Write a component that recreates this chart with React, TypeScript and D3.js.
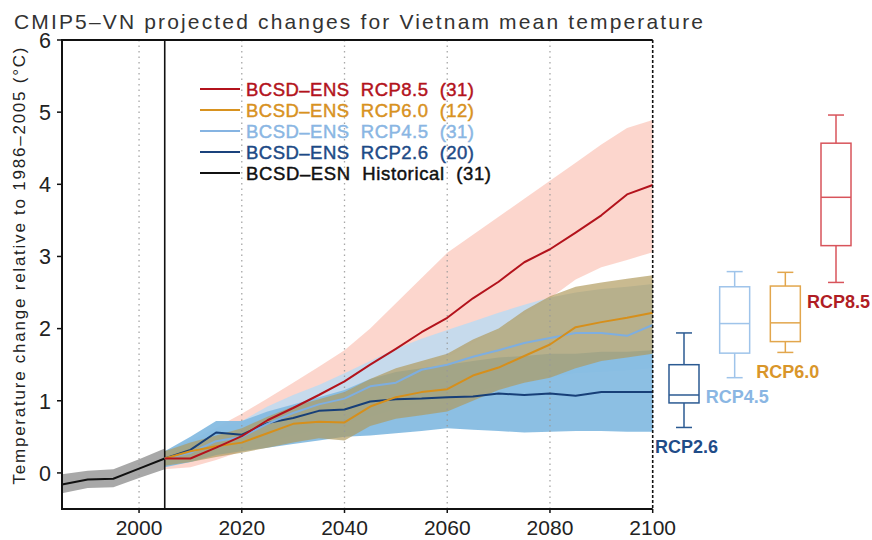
import React from 'react';
import * as d3 from 'd3';

const W = 872;
const H = 540;
const FONT = '"Liberation Sans", Arial, sans-serif';

// Historical ensemble (1985-2005)
const histYears = [1985, 1990, 1995, 2000, 2005];
const histMean = [-0.16, -0.09, -0.08, 0.06, 0.2];
const histLow = [-0.28, -0.21, -0.2, -0.07, 0.05];
const histHigh = [-0.02, 0.03, 0.05, 0.19, 0.34];

// Projection years
const projYears = [2005, 2010, 2015, 2020, 2025, 2030, 2035, 2040, 2045, 2050, 2055, 2060, 2065, 2070, 2075, 2080, 2085, 2090, 2095, 2100];

// Ensemble means
const rcp85Mean = [0.2, 0.2, 0.35, 0.51, 0.73, 0.9, 1.08, 1.27, 1.5, 1.72, 1.95, 2.15, 2.42, 2.65, 2.92, 3.1, 3.33, 3.57, 3.86, 3.99];
const rcp60Mean = [0.2, 0.3, 0.37, 0.42, 0.55, 0.68, 0.71, 0.7, 0.92, 1.05, 1.12, 1.16, 1.35, 1.46, 1.62, 1.78, 2.02, 2.09, 2.15, 2.22];
const rcp45Mean = [0.2, 0.28, 0.44, 0.5, 0.68, 0.83, 0.95, 1.03, 1.2, 1.25, 1.43, 1.5, 1.61, 1.7, 1.8, 1.87, 1.94, 1.94, 1.9, 2.05];
const rcp26Mean = [0.2, 0.32, 0.56, 0.53, 0.69, 0.76, 0.86, 0.88, 0.99, 1.02, 1.03, 1.05, 1.06, 1.1, 1.08, 1.1, 1.07, 1.12, 1.12, 1.12];

// Ensemble spread (lower / upper)
const rcp85Low = [0.05, 0.08, 0.18, 0.3, 0.42, 0.55, 0.7, 0.85, 1.0, 1.2, 1.4, 1.6, 1.8, 2.0, 2.2, 2.42, 2.68, 2.85, 2.95, 3.06];
const rcp85High = [0.3, 0.45, 0.63, 0.82, 1.03, 1.25, 1.47, 1.7, 2.0, 2.35, 2.7, 3.05, 3.3, 3.55, 3.8, 4.05, 4.3, 4.55, 4.78, 4.89];
const rcp60Low = [0.1, 0.15, 0.22, 0.28, 0.35, 0.42, 0.48, 0.45, 0.65, 0.75, 0.8, 0.85, 1.0, 1.15, 1.25, 1.32, 1.45, 1.55, 1.6, 1.65];
const rcp60High = [0.3, 0.42, 0.52, 0.62, 0.78, 0.92, 1.02, 1.12, 1.3, 1.45, 1.55, 1.65, 1.85, 2.0, 2.25, 2.45, 2.58, 2.64, 2.69, 2.74];
const rcp45Low = [0.1, 0.15, 0.25, 0.32, 0.42, 0.52, 0.6, 0.68, 0.78, 0.88, 0.98, 1.05, 1.12, 1.2, 1.27, 1.33, 1.38, 1.4, 1.42, 1.45];
const rcp45High = [0.3, 0.45, 0.62, 0.72, 0.92, 1.08, 1.22, 1.38, 1.55, 1.72, 1.86, 1.98, 2.1, 2.22, 2.33, 2.43, 2.5, 2.55, 2.58, 2.62];
const rcp26Low = [0.08, 0.15, 0.25, 0.3, 0.35, 0.4, 0.45, 0.5, 0.52, 0.55, 0.58, 0.62, 0.6, 0.58, 0.56, 0.57, 0.58, 0.58, 0.57, 0.57];
const rcp26High = [0.3, 0.5, 0.72, 0.72, 0.85, 0.95, 1.05, 1.15, 1.3, 1.4, 1.45, 1.5, 1.55, 1.6, 1.62, 1.65, 1.65, 1.68, 1.68, 1.7];

// End-of-century distributions: [whisker low, Q1, median, Q3, whisker high]
const boxNames = ['RCP2.6', 'RCP4.5', 'RCP6.0', 'RCP8.5'];
const boxRcp26 = [0.63, 0.97, 1.08, 1.5, 1.94];
const boxRcp45 = [1.32, 1.66, 2.07, 2.58, 2.79];
const boxRcp60 = [1.67, 1.82, 2.08, 2.59, 2.78];
const boxRcp85 = [2.64, 3.15, 3.82, 4.57, 4.96];

const yTicks = [0, 1, 2, 3, 4, 5, 6];
const xTicks = [2000, 2020, 2040, 2060, 2080, 2100];
const gridYears = [2000, 2020, 2040, 2060, 2080];

const legendRows = [
  { label: 'BCSD\u2013ENS  RCP8.5  (31)', color: '#b3131c', text: '#b3131c', len: 228 },
  { label: 'BCSD\u2013ENS  RCP6.0  (12)', color: '#d8921f', text: '#d8921f', len: 228 },
  { label: 'BCSD\u2013ENS  RCP4.5  (31)', color: '#86b4e2', text: '#8ab6e3', len: 228 },
  { label: 'BCSD\u2013ENS  RCP2.6  (20)', color: '#1a427c', text: '#1d4a86', len: 228 },
  { label: 'BCSD\u2013ESN  Historical  (31)', color: '#111111', text: '#111111', len: 245 },
];

const bands = [
  { low: rcp85Low, high: rcp85High, fill: '#fbcfc4', opacity: 0.85 },
  { low: rcp45Low, high: rcp45High, fill: '#bcdaf1', opacity: 0.85 },
  { low: rcp26Low, high: rcp26High, fill: '#86bce2', opacity: 0.95 },
  { low: rcp60Low, high: rcp60High, fill: '#b09a5c', opacity: 0.68 },
];

const meanLines = [
  { values: rcp26Mean, color: '#173f78' },
  { values: rcp45Mean, color: '#7eaee0' },
  { values: rcp60Mean, color: '#d68f1b' },
  { values: rcp85Mean, color: '#b3131c' },
];

const boxes = [
  { name: boxNames[0], stats: boxRcp26, stroke: '#2b5a92', label: '#1f4c88' },
  { name: boxNames[1], stats: boxRcp45, stroke: '#9fc4ea', label: '#8ab6e3' },
  { name: boxNames[2], stats: boxRcp60, stroke: '#e2a64c', label: '#d9962a' },
  { name: boxNames[3], stats: boxRcp85, stroke: '#d8545b', label: '#b01d24' },
];

export default function App() {
  const x = d3.scaleLinear().domain([1985, 2100]).range([62, 652.7]);
  const y = d3.scaleLinear().domain([-0.5, 6]).range([509, 40]);
  const bx = d3.scalePoint<string>().domain(boxNames).range([684, 836]);

  const area = (low: number[], high: number[], yrs: number[]) =>
    d3
      .area<number>()
      .x((_, i) => x(yrs[i]))
      .y0((_, i) => y(low[i]))
      .y1((_, i) => y(high[i]))(low) || '';

  const line = (vals: number[], yrs: number[]) =>
    d3
      .line<number>()
      .x((_, i) => x(yrs[i]))
      .y((v) => y(v))(vals) || '';

  const [x0, x1] = x.range();
  const [yb, yt] = y.range();
  const boxW = 30;
  const capW = 16;

  return (
    <svg
      width={W}
      height={H}
      style={{ position: 'absolute', left: 0, top: 0, background: '#fff' }}
      fontFamily={FONT}
    >
      <rect width={W} height={H} fill="#fff" />

      {/* Title */}
      <text x={14} y={29} fontSize={21} fill="#333" textLength={689} lengthAdjust="spacing">
        CMIP5{'\u2013'}VN projected changes for Vietnam mean temperature
      </text>

      {/* Spread bands */}
      <path d={area(histLow, histHigh, histYears)} fill="#a8a8a8" />
      {bands.map((b, i) => (
        <path key={i} d={area(b.low, b.high, projYears)} fill={b.fill} fillOpacity={b.opacity} />
      ))}

      {/* Dotted grid */}
      {gridYears.map((g) => (
        <line
          key={g}
          x1={x(g)}
          x2={x(g)}
          y1={yt}
          y2={yb}
          stroke="#999"
          strokeWidth={1.3}
          strokeDasharray="1.5,4"
          opacity={0.85}
        />
      ))}

      {/* Start of projections */}
      <line x1={x(2005)} x2={x(2005)} y1={yt} y2={yb} stroke="#111" strokeWidth={1.6} />

      {/* Ensemble means */}
      <path d={line(histMean, histYears)} fill="none" stroke="#111" strokeWidth={2} />
      {meanLines.map((m, i) => (
        <path key={i} d={line(m.values, projYears)} fill="none" stroke={m.color} strokeWidth={2} strokeLinejoin="round" />
      ))}

      {/* Frame */}
      <path d={`M${x1},${yt} L${x0},${yt} L${x0},${yb} L${x1},${yb}`} fill="none" stroke="#111" strokeWidth={2} />
      <line x1={x1} x2={x1} y1={yt} y2={yb} stroke="#111" strokeWidth={1.6} strokeDasharray="3,2" />

      {/* Y axis */}
      {yTicks.map((t) => (
        <g key={t}>
          <line x1={x0 - 5} x2={x0} y1={y(t)} y2={y(t)} stroke="#111" strokeWidth={1.5} />
          <text x={51} y={y(t)} dy="0.36em" fontSize={21.5} textAnchor="end" fill="#222">
            {t}
          </text>
        </g>
      ))}
      <text
        transform="translate(25,266) rotate(-90)"
        fontSize={17}
        textAnchor="middle"
        fill="#222"
        textLength={437}
        lengthAdjust="spacing"
      >
        Temperature change relative to 1986{'\u2013'}2005 ({'\u00b0'}C)
      </text>

      {/* X axis */}
      {xTicks.map((t) => (
        <g key={t}>
          <line x1={x(t)} x2={x(t)} y1={yb} y2={yb + 4} stroke="#111" strokeWidth={1.5} />
          <text x={x(t)} y={535} fontSize={21} textAnchor="middle" fill="#222">
            {t}
          </text>
        </g>
      ))}

      {/* Legend */}
      {legendRows.map((r, i) => {
        const ly = 89 + i * 21;
        return (
          <g key={i}>
            <line x1={200} x2={240} y1={ly} y2={ly} stroke={r.color} strokeWidth={2} />
            <text
              x={246}
              y={ly}
              dy="0.36em"
              fontSize={18.5}
              fill={r.text}
              stroke={r.text}
              strokeWidth={0.45}
              textLength={r.len}
              lengthAdjust="spacing"
              style={{ whiteSpace: 'pre' }}
            >
              {r.label}
            </text>
          </g>
        );
      })}

      {/* End-of-century box plots */}
      {boxes.map((b) => {
        const cx = bx(b.name) as number;
        const [lo, q1, med, q3, hi] = b.stats;
        return (
          <g key={b.name} stroke={b.stroke} strokeWidth={1.5} fill="none">
            <line x1={cx} x2={cx} y1={y(hi)} y2={y(q3)} />
            <line x1={cx} x2={cx} y1={y(q1)} y2={y(lo)} />
            <line x1={cx - capW / 2} x2={cx + capW / 2} y1={y(hi)} y2={y(hi)} />
            <line x1={cx - capW / 2} x2={cx + capW / 2} y1={y(lo)} y2={y(lo)} />
            <rect x={cx - boxW / 2} y={y(q3)} width={boxW} height={y(q1) - y(q3)} />
            <line x1={cx - boxW / 2} x2={cx + boxW / 2} y1={y(med)} y2={y(med)} />
            <text
              x={cx - 29}
              y={y(lo) + 19}
              dy="0.36em"
              fontSize={18}
              fontWeight="bold"
              fill={b.label}
              stroke="none"
            >
              {b.name}
            </text>
          </g>
        );
      })}
    </svg>
  );
}
